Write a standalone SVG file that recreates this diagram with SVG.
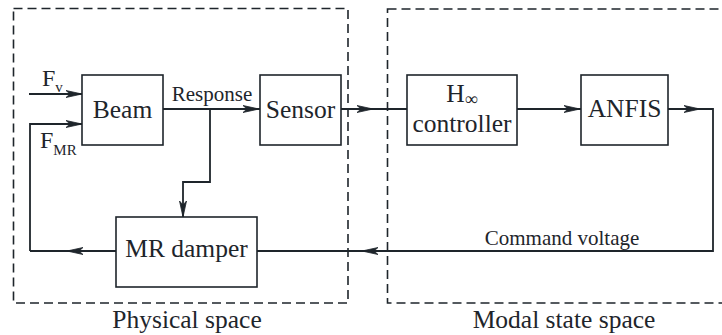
<svg xmlns="http://www.w3.org/2000/svg" xmlns:xlink="http://www.w3.org/1999/xlink" width="722" height="335" viewBox="0 0 722 335">
<style>
  .dash{fill:none;stroke:#1e252b;stroke-width:1.6;stroke-dasharray:9 5}
  .box{fill:#fff;stroke:#1e252b;stroke-width:1.6}
  .ln{fill:none;stroke:#1e252b;stroke-width:1.8}
  text{fill:#1e252b;text-anchor:middle}
  .big{font-size:25.5px}
  .mid{font-size:21px}
  .sub{font-size:15px}
  .ah{fill:#1e252b;stroke:#1e252b;stroke-width:0.8;stroke-linejoin:miter}
</style>
<defs>
  <path id="ah" class="ah" d="M0,0 L-16,-3.5 L-12,0 L-16,3.5 Z"/>
</defs>
<rect width="722" height="335" fill="#fff"/>
<g font-family="Liberation Serif, Times New Roman, serif">
<g id="physical-space">
  <rect class="dash" x="13.5" y="8.5" width="334.5" height="294.5"/>
  <text class="big" x="187" y="328">Physical space</text>
</g>
<g id="modal-state-space">
  <rect class="dash" x="387.5" y="9" width="345" height="294"/>
  <text class="big" x="564" y="328">Modal state space</text>
</g>
<g id="connectors">
  <path class="ln" d="M29,94 H82"/>
  <use xlink:href="#ah" transform="translate(82,94)"/>
  <path class="ln" d="M30,251 V124 H82"/>
  <use xlink:href="#ah" transform="translate(82,124)"/>
  <path class="ln" d="M163,109 H260"/>
  <use xlink:href="#ah" transform="translate(259,109)"/>
  <path class="ln" d="M210,109 V182 H183 V217"/>
  <use xlink:href="#ah" transform="translate(183,217) rotate(90)"/>
  <path class="ln" d="M341,109 H407"/>
  <use xlink:href="#ah" transform="translate(373,109)"/>
  <path class="ln" d="M517,109 H581"/>
  <use xlink:href="#ah" transform="translate(580,109)"/>
  <path class="ln" d="M668,109 H713 V251 H257"/>
  <use xlink:href="#ah" transform="translate(700,109)"/>
  <use xlink:href="#ah" transform="translate(362,251) rotate(180)"/>
  <path class="ln" d="M116,251 H30"/>
  <use xlink:href="#ah" transform="translate(67,251) rotate(180)"/>
  <text class="mid" x="212" y="101">Response</text>
  <text class="mid" x="562" y="245">Command voltage</text>
  <text x="42" y="86" text-anchor="start" style="text-anchor:start;font-size:24px">F<tspan class="sub" dy="6">v</tspan></text>
  <text x="40" y="148" style="text-anchor:start;font-size:24px">F<tspan class="sub" dy="7">MR</tspan></text>
</g>
<g id="beam">
  <rect class="box" x="82" y="75" width="81" height="70"/>
  <text class="big" x="122.5" y="118">Beam</text>
</g>
<g id="sensor">
  <rect class="box" x="260" y="75" width="81" height="70"/>
  <text class="big" x="300.5" y="118">Sensor</text>
</g>
<g id="h-inf-controller">
  <rect class="box" x="407" y="75" width="110" height="70"/>
  <text class="big" x="462" y="102">H<tspan style="font-size:18px" dy="3">∞</tspan></text>
  <text class="big" x="462" y="132">controller</text>
</g>
<g id="anfis">
  <rect class="box" x="581" y="75" width="87" height="70"/>
  <text class="big" x="624.5" y="117">ANFIS</text>
</g>
<g id="mr-damper">
  <rect class="box" x="116" y="217" width="141" height="70"/>
  <text class="big" x="186.5" y="257">MR damper</text>
</g>
</g>
</svg>
